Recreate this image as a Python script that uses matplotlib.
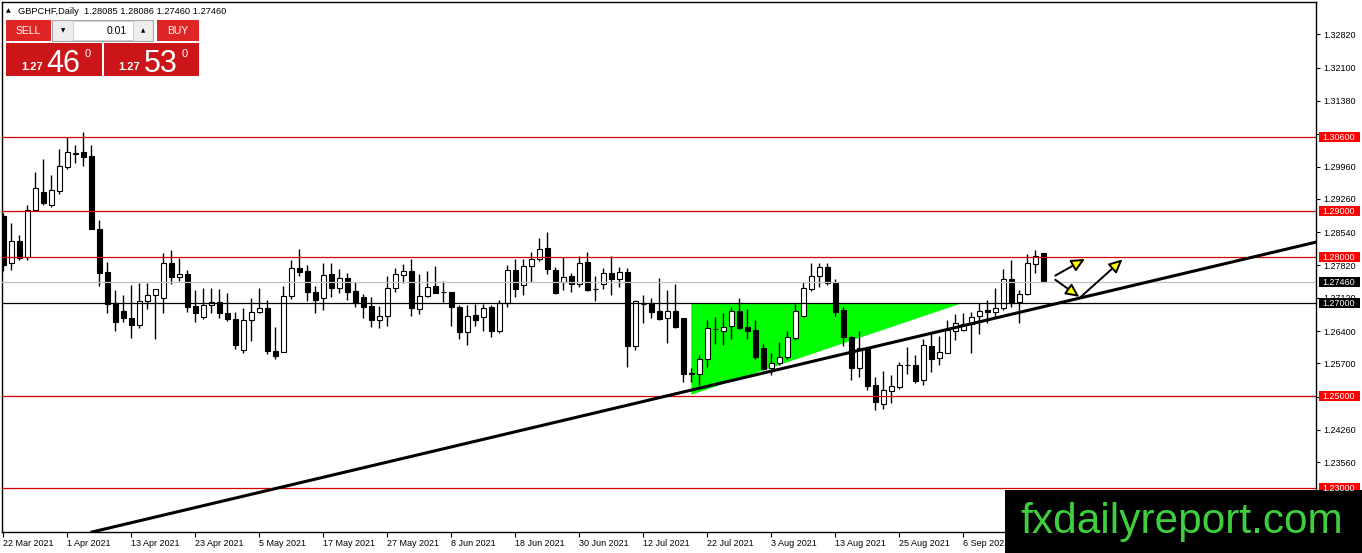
import matplotlib
matplotlib.use('Agg')
import matplotlib.pyplot as plt
from matplotlib.patches import Rectangle, Polygon

plt.rcParams['font.family'] = ['Liberation Sans', 'DejaVu Sans']

# ---------------- data (GBPCHF daily) ----------------
opens = [1.2888, 1.2787, 1.2835, 1.2800, 1.2903, 1.2942, 1.2913, 1.2944, 1.2996, 1.3024,
         1.3027, 1.3019, 1.2861, 1.2767, 1.2700, 1.2683, 1.2668, 1.2654, 1.2704, 1.2717,
         1.2711, 1.2787, 1.2758, 1.2763, 1.2694, 1.2671, 1.2696, 1.2702, 1.2680, 1.2666,
         1.2600, 1.2664, 1.2681, 1.2689, 1.2597, 1.2594, 1.2715, 1.2776, 1.2770, 1.2725,
         1.2711, 1.2763, 1.2733, 1.2754, 1.2727, 1.2713, 1.2694, 1.2664, 1.2673, 1.2733,
         1.2761, 1.2770, 1.2687, 1.2715, 1.2737, 1.2725, 1.2724, 1.2691, 1.2637, 1.2674,
         1.2670, 1.2691, 1.2639, 1.2700, 1.2772, 1.2739, 1.2780, 1.2795, 1.2819, 1.2772,
         1.2747, 1.2759, 1.2741, 1.2789, 1.2730, 1.2741, 1.2766, 1.2752, 1.2767, 1.2608,
         1.2699, 1.2700, 1.2683, 1.2668, 1.2683, 1.2668, 1.2549, 1.2546, 1.2579, 1.2644,
         1.2639, 1.2651, 1.2683, 1.2648, 1.2642, 1.2604, 1.2559, 1.2570, 1.2583, 1.2624,
         1.2673, 1.2732, 1.2759, 1.2778, 1.2743, 1.2686, 1.2626, 1.2559, 1.2603, 1.2523,
         1.2482, 1.2511, 1.2518, 1.2567, 1.2567, 1.2533, 1.2608, 1.2581, 1.2593, 1.2641,
         1.2642, 1.2655, 1.2673, 1.2686, 1.2681, 1.2689, 1.2753, 1.2702, 1.2720, 1.2785,
         1.28085]
highs = [1.2895, 1.2873, 1.2848, 1.2913, 1.2985, 1.3012, 1.2978, 1.3033, 1.3059, 1.3043,
         1.3070, 1.3043, 1.2880, 1.2790, 1.2729, 1.2718, 1.2740, 1.2745, 1.2745, 1.2732,
         1.2808, 1.2815, 1.2799, 1.2772, 1.2729, 1.2733, 1.2733, 1.2730, 1.2723, 1.2682,
         1.2689, 1.2711, 1.2733, 1.2707, 1.2648, 1.2737, 1.2794, 1.2818, 1.2783, 1.2738,
         1.2787, 1.2787, 1.2774, 1.2765, 1.2747, 1.2720, 1.2713, 1.2694, 1.2759, 1.2777,
         1.2785, 1.2796, 1.2764, 1.2769, 1.2781, 1.2748, 1.2725, 1.2696, 1.2696, 1.2699,
         1.2698, 1.2696, 1.2707, 1.2783, 1.2795, 1.2795, 1.2812, 1.2841, 1.2854, 1.2779,
         1.2800, 1.2765, 1.2803, 1.2812, 1.2759, 1.2776, 1.2803, 1.2778, 1.2776, 1.2707,
         1.2718, 1.2711, 1.2754, 1.2729, 1.2742, 1.2668, 1.2561, 1.2588, 1.2664, 1.2670,
         1.2680, 1.2693, 1.2711, 1.2688, 1.2664, 1.2613, 1.2592, 1.2617, 1.2641, 1.2699,
         1.2747, 1.2788, 1.2788, 1.2788, 1.2752, 1.2693, 1.2629, 1.2641, 1.2606, 1.2541,
         1.2554, 1.2545, 1.2574, 1.2606, 1.2588, 1.2622, 1.2635, 1.2629, 1.2663, 1.2677,
         1.2680, 1.2682, 1.2700, 1.2707, 1.2733, 1.2774, 1.2794, 1.2729, 1.2807, 1.2816,
         1.28086]
lows = [1.2769, 1.2772, 1.2794, 1.2794, 1.2901, 1.2913, 1.2909, 1.2937, 1.2991, 1.3004,
        1.2998, 1.2860, 1.2738, 1.2678, 1.2639, 1.2659, 1.2624, 1.2647, 1.2688, 1.2622,
        1.2678, 1.2741, 1.2749, 1.2681, 1.2660, 1.2665, 1.2680, 1.2668, 1.2661, 1.2602,
        1.2592, 1.2619, 1.2678, 1.2590, 1.2579, 1.2594, 1.2709, 1.2760, 1.2704, 1.2678,
        1.2686, 1.2714, 1.2722, 1.2707, 1.2691, 1.2668, 1.2648, 1.2646, 1.2650, 1.2725,
        1.2743, 1.2673, 1.2676, 1.2713, 1.2722, 1.2702, 1.2650, 1.2622, 1.2609, 1.2650,
        1.2641, 1.2626, 1.2635, 1.2691, 1.2714, 1.2718, 1.2747, 1.2792, 1.2763, 1.2720,
        1.2729, 1.2725, 1.2736, 1.2727, 1.2706, 1.2731, 1.2718, 1.2736, 1.2563, 1.2599,
        1.2658, 1.2668, 1.2664, 1.2615, 1.2646, 1.2529, 1.2530, 1.2523, 1.2562, 1.2613,
        1.2610, 1.2622, 1.2644, 1.2622, 1.2579, 1.2556, 1.2545, 1.2567, 1.2579, 1.2621,
        1.2671, 1.2727, 1.2736, 1.2740, 1.2673, 1.2608, 1.2534, 1.2540, 1.2512, 1.2468,
        1.2471, 1.2485, 1.2514, 1.2547, 1.2527, 1.2523, 1.2552, 1.2567, 1.2592, 1.2621,
        1.2639, 1.2593, 1.2634, 1.2657, 1.2668, 1.2686, 1.2693, 1.2657, 1.2718, 1.2766,
        1.27460]
closes = [1.2783, 1.2834, 1.2797, 1.2903, 1.2949, 1.2918, 1.2945, 1.2997, 1.3027, 1.3025,
          1.3017, 1.2860, 1.2766, 1.2698, 1.2659, 1.2668, 1.2654, 1.2704, 1.2718, 1.2730,
          1.2787, 1.2758, 1.2763, 1.2693, 1.2680, 1.2696, 1.2702, 1.2678, 1.2665, 1.2609,
          1.2664, 1.2681, 1.2689, 1.2596, 1.2587, 1.2715, 1.2776, 1.2768, 1.2725, 1.2707,
          1.2761, 1.2733, 1.2754, 1.2725, 1.2700, 1.2693, 1.2663, 1.2673, 1.2733, 1.2763,
          1.2771, 1.2689, 1.2715, 1.2736, 1.2722, 1.2725, 1.2691, 1.2637, 1.2673, 1.2663,
          1.2689, 1.2639, 1.2700, 1.2772, 1.2730, 1.2780, 1.2795, 1.2817, 1.2774, 1.2722,
          1.2758, 1.2742, 1.2788, 1.2729, 1.2730, 1.2765, 1.2752, 1.2767, 1.2608, 1.2705,
          1.2699, 1.2682, 1.2666, 1.2683, 1.2648, 1.2546, 1.2548, 1.2579, 1.2646, 1.2645,
          1.2648, 1.2683, 1.2647, 1.2641, 1.2583, 1.2557, 1.2570, 1.2583, 1.2626, 1.2684,
          1.2733, 1.2759, 1.2778, 1.2743, 1.2682, 1.2626, 1.2559, 1.2603, 1.2522, 1.2487,
          1.2512, 1.2520, 1.2567, 1.2567, 1.2531, 1.2610, 1.2580, 1.2595, 1.2642, 1.2657,
          1.2655, 1.2671, 1.2684, 1.2681, 1.2689, 1.2752, 1.2700, 1.2720, 1.2787, 1.2803,
          1.27460]

date_labels = ['22 Mar 2021', '1 Apr 2021', '13 Apr 2021', '23 Apr 2021', '5 May 2021',
               '17 May 2021', '27 May 2021', '8 Jun 2021', '18 Jun 2021', '30 Jun 2021',
               '12 Jul 2021', '22 Jul 2021', '3 Aug 2021', '13 Aug 2021', '25 Aug 2021',
               '6 Sep 2021']
date_label_bars = [0, 8, 16, 24, 32, 40, 48, 56, 64, 72, 80, 88, 96, 104, 112, 120]

price_ticks = [1.32820, 1.32100, 1.31380, 1.30660, 1.29960, 1.29260, 1.28540, 1.27820,
               1.27120, 1.26400, 1.25700, 1.24980, 1.24260, 1.23560]

red_levels = [1.30600, 1.29000, 1.28000, 1.25000, 1.23000]
bid_level = 1.27460
black_level = 1.27000

trend_bars = [11.1, 134.6]
trend_prices = [1.22050, 1.27115]

triangle_bars = [86, 119.8, 86]
triangle_prices = [1.27000, 1.27000, 1.25020]

arrow_start_bars = [131.5, 131.5, 134.5]
arrow_start_prices = [1.27600, 1.27510, 1.27110]
arrow_end_bars = [135.2, 134.5, 139.9]
arrow_end_prices = [1.27960, 1.27140, 1.27950]

header = 'GBPCHF,Daily  1.28085 1.28086 1.27460 1.27460'
sell_price = ('1.27', '46', '0')
buy_price = ('1.27', '53', '0')
lot = '0.01'

# ---------------- figure ----------------
W, H = 1362, 553
fig = plt.figure(figsize=(W / 100, H / 100), dpi=100)
fig.patch.set_facecolor('white')
L, R, T, B = 2, 1316, 2, 532
ax = fig.add_axes([L / W, (H - B) / H, (R - L) / W, (B - T) / H])
ax.set_facecolor('white')

n = len(opens)
xs = list(range(n))
ax.set_xlim(-0.16, -0.16 + (R - L) / 8.0)
ax.set_ylim(1.22050, 1.22050 + (B - T) / 4620.0)

# triangle (background)
ax.add_patch(Polygon(list(zip(triangle_bars, triangle_prices)), closed=True,
                     facecolor='#00FF00', edgecolor='none', zorder=1))

# candles
ax.vlines(xs, lows, highs, color='black', linewidth=1.0, zorder=3)
for i in range(n):
    o, c = opens[i], closes[i]
    bull = c >= o
    ax.add_patch(Rectangle((i - 0.3, min(o, c)), 0.6, abs(c - o),
                           facecolor='white' if bull else 'black',
                           edgecolor='black', linewidth=0.8, zorder=4))

# horizontal levels
for lv in red_levels:
    ax.axhline(lv, color='#D00000', linewidth=0.9, zorder=5)
ax.axhline(bid_level, color='#C0C0C0', linewidth=0.9, zorder=5)
ax.axhline(black_level, color='black', linewidth=0.9, zorder=5)

# trend line
ax.axline((trend_bars[0], trend_prices[0]), (trend_bars[1], trend_prices[1]),
          color='black', linewidth=2.2, zorder=6)

# arrows
for sx, sy, ex, ey in zip(arrow_start_bars, arrow_start_prices, arrow_end_bars, arrow_end_prices):
    ax.annotate('', xy=(ex, ey), xytext=(sx, sy), zorder=7,
                arrowprops=dict(arrowstyle='-|>,head_length=0.8,head_width=0.38',
                                fc='yellow', ec='black', lw=1.4,
                                shrinkA=0, shrinkB=0, mutation_scale=10))

# axes styling
for s in ax.spines.values():
    s.set_color('black')
    s.set_linewidth(1.0)
ax.yaxis.tick_right()
ax.set_yticks(price_ticks)
ax.set_yticklabels([f'{v:.5f}' for v in price_ticks])
ax.tick_params(axis='y', direction='out', length=3, width=0.8, pad=2.5, labelsize=6.5)
ax.set_xticks(date_label_bars)
ax.set_xticklabels(date_labels)
for lab in ax.get_xticklabels():
    lab.set_ha('left')
ax.tick_params(axis='x', direction='out', length=3.5, width=0.8, pad=1.5, labelsize=6.5)

# ---------------- overlay (pixel coordinates) ----------------
ov = fig.add_axes([0, 0, 1, 1])
ov.set_xlim(0, W)
ov.set_ylim(H, 0)
ov.axis('off')
ov.patch.set_alpha(0)
ov.set_zorder(10)

def ypix(price):
    return H - ax.transData.transform((0, price))[1]

# price label boxes
level_boxes = [(lv, '#FF0000') for lv in red_levels] + [(bid_level, 'black'), (black_level, 'black')]
for lv, col in level_boxes:
    yp = ypix(lv)
    ov.add_patch(Rectangle((1319, yp - 5), 41, 10, facecolor=col, edgecolor='none'))
    ov.text(1322.5, yp + 0.3, f'{lv:.5f}', color='white', fontsize=6.5, va='center', ha='left')

# header
ov.text(6, 11, '\u25B2', fontsize=4.5, va='center', ha='left', family=['DejaVu Sans'])
ov.text(18, 11, header, fontsize=6.7, va='center', ha='left', color='black')

# trade panel
ov.add_patch(Rectangle((6, 20), 45, 21, facecolor='#E02525', edgecolor='none'))
ov.text(28.5, 31, 'SELL', color='white', fontsize=7.5, ha='center', va='center')
ov.add_patch(Rectangle((157, 20), 42, 21, facecolor='#E02525', edgecolor='none'))
ov.text(178, 31, 'BUY', color='white', fontsize=7.5, ha='center', va='center')
ov.add_patch(Rectangle((52, 20), 101, 21, facecolor='#EDEDED', edgecolor='#A8A8A8', linewidth=0.8))
ov.add_patch(Rectangle((73, 21), 60, 19, facecolor='white', edgecolor='#C8C8C8', linewidth=0.6))
ov.text(63, 31, '\u25BC', fontsize=4, ha='center', va='center', family=['DejaVu Sans'])
ov.text(143, 31, '\u25B2', fontsize=4, ha='center', va='center', family=['DejaVu Sans'])
ov.text(127, 31, lot, fontsize=7.5, ha='right', va='center', color='black')

ov.add_patch(Rectangle((6, 43), 96, 33, facecolor='#CC1518', edgecolor='none'))
ov.add_patch(Rectangle((104, 43), 95, 33, facecolor='#CC1518', edgecolor='none'))
for x0, (small, big, sup) in [(21, sell_price), (118, buy_price)]:
    ov.text(x0, 70.5, small, color='white', fontsize=8, fontweight='bold', ha='left', va='baseline')
    ov.text(x0 + 25.5, 71.5, big, color='white', fontsize=22, ha='left', va='baseline')
    ov.text(x0 + 64, 57, sup, color='white', fontsize=8, ha='left', va='baseline')

# watermark
ov.add_patch(Rectangle((1005, 490), 357, 63, facecolor='black', edgecolor='none'))
ov.text(1020, 533, 'fxdailyreport.com', color='#3DCF3D', fontsize=30.5, ha='left', va='baseline')

fig.savefig('out.png', dpi=100)
